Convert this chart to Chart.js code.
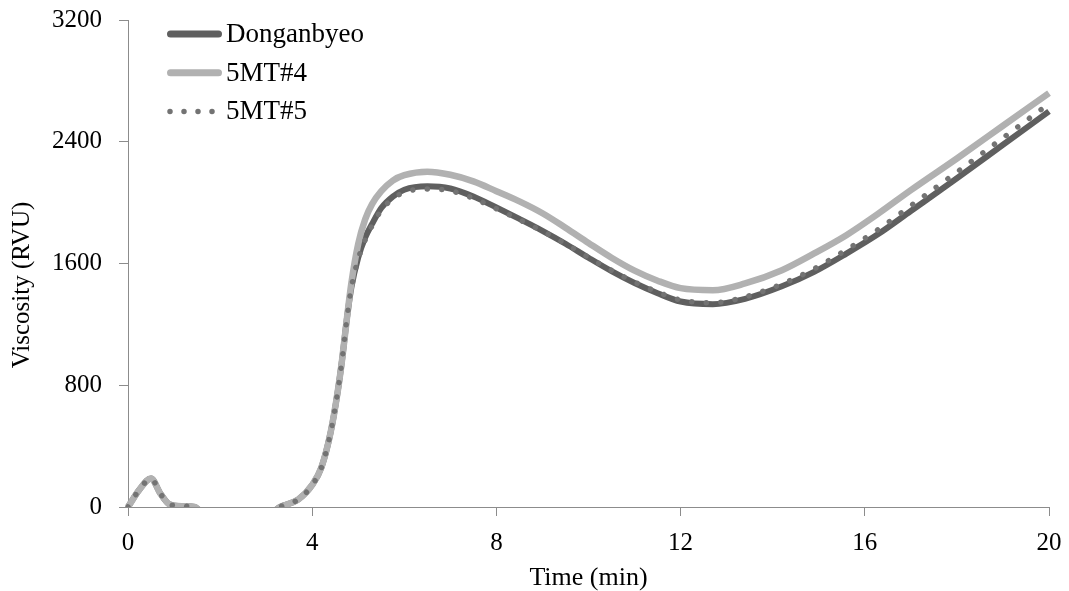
<!DOCTYPE html>
<html>
<head>
<meta charset="utf-8">
<script src="https://cdn.jsdelivr.net/npm/chart.js@4/dist/chart.umd.min.js"></script>
<style>
  html, body { margin: 0; padding: 0; background: #fff; }
  #wrap { width: 1069px; height: 591px; }
</style>
</head>
<body>
<div id="wrap"><canvas id="rva" width="1069" height="591"></canvas></div>
<script>
// Pasting time (min)
const time = [0, 0.25, 0.5, 0.7, 0.9, 1.2, 1.45, 1.7, 3.0, 3.3,
              3.7, 4.0, 4.2, 4.4, 4.55, 4.65, 4.75, 4.85, 5.0, 5.15,
              5.3, 5.5, 5.75, 6.0, 6.5, 7.0, 7.5, 8.0, 8.5, 9.0,
              9.5, 10.0, 10.5, 11.0, 11.5, 12.0, 12.7, 13.4, 14.2, 14.9,
              15.6, 16.3, 17, 18, 19, 20];

// Viscosity (RVU) per cultivar / line
const donganbyeo = [0, 115, 188, 90, 18, 5, 0, -60, -60, 0,
                    50, 145, 260, 490, 750, 970, 1230, 1440, 1640, 1770,
                    1860, 1965, 2040, 2085, 2108, 2093, 2040, 1968, 1893, 1815,
                    1730, 1638, 1550, 1472, 1405, 1350, 1333, 1368, 1450, 1545,
                    1665, 1795, 1945, 2160, 2380, 2600];
const mt4 = [0, 115, 188, 90, 18, 5, 0, -60, -60, 0,
             50, 145, 260, 490, 750, 970, 1230, 1470, 1730, 1890,
             1990, 2075, 2145, 2180, 2203, 2183, 2140, 2075, 2008, 1930,
             1835, 1735, 1638, 1553, 1487, 1438, 1425, 1469, 1556, 1666,
             1786, 1929, 2082, 2290, 2505, 2720];
const mt5 = [0, 115, 188, 90, 18, 5, 0, -60, -60, 0,
             50, 145, 260, 490, 750, 970, 1230, 1440, 1630, 1755,
             1848, 1950, 2025, 2068, 2090, 2078, 2028, 1960, 1888, 1812,
             1730, 1640, 1555, 1478, 1413, 1360, 1342, 1380, 1465, 1565,
             1690, 1825, 1980, 2200, 2425, 2650];

const seriesNames = ['Donganbyeo', '5MT#4', '5MT#5'];
const xTicks = [0, 4, 8, 12, 16, 20];
const yTicks = [0, 800, 1600, 2400, 3200];

const FONT = 'Liberation Serif';
const AXIS_GREY = '#8c8c8c';

const toPoints = (vals) => vals.map((v, i) => ({ x: time[i], y: v }));

// Keep tick labels from pushing the plot area inwards
const noLabelPadding = (scale) => {
  scale.paddingLeft = 0;
  scale.paddingRight = 0;
  scale.paddingTop = 0;
  scale.paddingBottom = 0;
};

// In-plot legend and rotated y title
const decorations = {
  id: 'decorations',
  afterDraw(chart) {
    const ctx = chart.ctx;
    ctx.save();
    chart.data.datasets.forEach((ds, i) => {
      const y = 34 + i * 38.7;
      ctx.beginPath();
      ctx.strokeStyle = ds.borderColor;
      if (ds.borderDash && ds.borderDash.length) {
        ctx.lineWidth = ds.borderWidth;
        ctx.lineCap = 'round';
        ctx.setLineDash([0.001, 14]);
        ctx.moveTo(170, y);
        ctx.lineTo(216, y);
      } else {
        ctx.lineWidth = 7;
        ctx.lineCap = 'round';
        ctx.setLineDash([]);
        ctx.moveTo(170.5, y);
        ctx.lineTo(218.5, y);
      }
      ctx.stroke();
      ctx.setLineDash([]);
      ctx.fillStyle = '#000';
      ctx.font = '27px "' + FONT + '"';
      ctx.textAlign = 'left';
      ctx.textBaseline = 'middle';
      ctx.fillText(ds.label, 226, y + 1);
    });
    // y-axis title
    ctx.translate(22, 285);
    ctx.rotate(-Math.PI / 2);
    ctx.fillStyle = '#000';
    ctx.font = '25px "' + FONT + '"';
    ctx.textAlign = 'center';
    ctx.textBaseline = 'middle';
    ctx.fillText('Viscosity (RVU)', 0, 0);
    ctx.restore();
  }
};

new Chart(document.getElementById('rva'), {
  type: 'line',
  data: {
    datasets: [
      {
        label: seriesNames[0],
        data: toPoints(donganbyeo),
        borderColor: '#5f5f5f',
        borderWidth: 6,
        order: 2
      },
      {
        label: seriesNames[1],
        data: toPoints(mt4),
        borderColor: '#b1b1b1',
        borderWidth: 6.5,
        order: 1
      },
      {
        label: seriesNames[2],
        data: toPoints(mt5),
        borderColor: '#737373',
        borderWidth: 5.5,
        borderDash: [0.001, 14.5],
        borderCapStyle: 'round',
        order: 0
      }
    ]
  },
  options: {
    responsive: false,
    animation: false,
    devicePixelRatio: 1,
    layout: { padding: { left: 0, right: 20, top: 20, bottom: 0 } },
    elements: {
      point: { radius: 0, hoverRadius: 0 },
      line: { cubicInterpolationMode: 'monotone', borderJoinStyle: 'round' }
    },
    datasets: { line: { clip: { left: 5, top: 5, right: 5, bottom: 0 } } },
    plugins: {
      legend: { display: false },
      tooltip: { enabled: false }
    },
    scales: {
      x: {
        type: 'linear',
        min: 0,
        max: 20,
        afterBuildTicks(scale) { scale.ticks = xTicks.map(v => ({ value: v })); },
        afterFit(scale) { scale.height = 84; noLabelPadding(scale); },
        grid: { drawOnChartArea: false, drawTicks: true, tickLength: 9, color: AXIS_GREY, lineWidth: 1 },
        border: { display: true, color: AXIS_GREY, width: 1 },
        ticks: {
          color: '#000',
          font: { family: FONT, size: 25 },
          padding: 12,
          maxRotation: 0,
          callback: (v) => String(v)
        },
        title: {
          display: true,
          text: 'Time (min)',
          color: '#000',
          font: { family: FONT, size: 26, lineHeight: 1 },
          padding: { top: 0, bottom: 0 }
        }
      },
      y: {
        type: 'linear',
        min: 0,
        max: 3200,
        afterBuildTicks(scale) { scale.ticks = yTicks.map(v => ({ value: v })); },
        afterFit(scale) { scale.width = 128; noLabelPadding(scale); },
        grid: { drawOnChartArea: false, drawTicks: true, tickLength: 9, color: AXIS_GREY, lineWidth: 1 },
        border: { display: true, color: AXIS_GREY, width: 1 },
        ticks: {
          color: '#000',
          font: { family: FONT, size: 25 },
          padding: 17,
          callback: (v) => String(v)
        }
      }
    }
  },
  plugins: [decorations]
});
</script>
</body>
</html>
